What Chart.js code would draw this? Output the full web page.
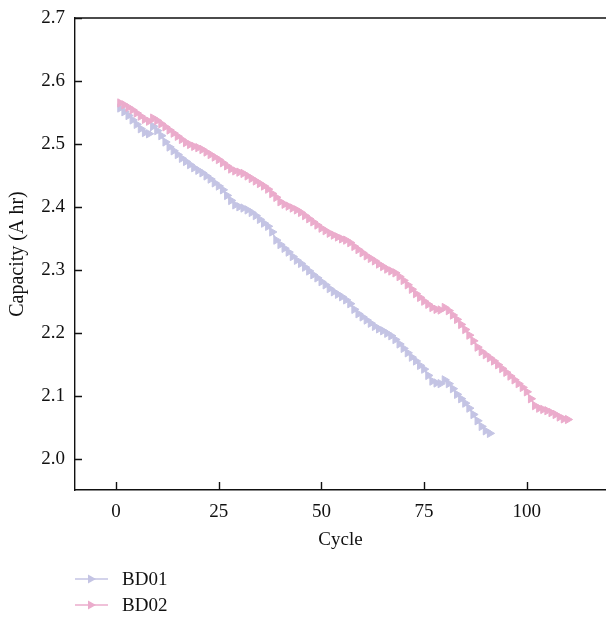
<!DOCTYPE html>
<html lang="en">
<head>
    <meta charset="UTF-8">
    <title>Capacity vs Cycle</title>
    <script src="https://cdn.jsdelivr.net/npm/chart.js"></script>
    <style>
        body { margin: 0; background: #fff; }
        canvas { display: block; }
    </style>
</head>
<body>
    <canvas id="capacity_chart" width="606" height="618"></canvas>
    <script>
        // capacity per cycle (cycle = index + 1)
        const bd01Capacity = [
            2.557, 2.551, 2.545, 2.538, 2.531, 2.524, 2.518, 2.516, 2.528, 2.521,
            2.513, 2.503, 2.495, 2.489, 2.483, 2.477, 2.472, 2.467, 2.462, 2.458,
            2.454, 2.449, 2.444, 2.438, 2.433, 2.427, 2.418, 2.410, 2.403, 2.400,
            2.398, 2.395, 2.391, 2.386, 2.380, 2.374, 2.369, 2.360, 2.347, 2.340,
            2.334, 2.328, 2.321, 2.315, 2.310, 2.304, 2.298, 2.292, 2.287, 2.281,
            2.276, 2.270, 2.265, 2.261, 2.257, 2.252, 2.246, 2.237, 2.230, 2.225,
            2.220, 2.215, 2.210, 2.206, 2.203, 2.199, 2.195, 2.189, 2.182, 2.175,
            2.168, 2.161, 2.155, 2.148, 2.142, 2.132, 2.123, 2.120, 2.119, 2.125,
            2.119, 2.111, 2.102, 2.095, 2.088, 2.080, 2.070, 2.060, 2.051, 2.044,
            2.040
        ];
        const bd02Capacity = [
            2.565, 2.562, 2.558, 2.554, 2.549, 2.544, 2.539, 2.536, 2.541, 2.537,
            2.532, 2.527, 2.522, 2.517, 2.512, 2.507, 2.502, 2.499, 2.496, 2.494,
            2.491, 2.487, 2.483, 2.479, 2.475, 2.470, 2.465, 2.460, 2.457, 2.455,
            2.453, 2.449, 2.445, 2.441, 2.437, 2.433, 2.428, 2.421, 2.415, 2.408,
            2.404, 2.401, 2.398, 2.395, 2.391, 2.386, 2.381, 2.376, 2.371, 2.366,
            2.362, 2.358, 2.355, 2.352, 2.349, 2.347, 2.343, 2.337, 2.332, 2.327,
            2.322, 2.318, 2.314, 2.309, 2.305, 2.301, 2.298, 2.295, 2.289, 2.283,
            2.276, 2.269, 2.262, 2.256, 2.250, 2.245, 2.240, 2.237, 2.236, 2.240,
            2.235, 2.228, 2.221, 2.213, 2.205, 2.196, 2.187, 2.177, 2.170, 2.165,
            2.160, 2.155, 2.149, 2.143, 2.137, 2.131, 2.125, 2.119, 2.113, 2.106,
            2.095, 2.084, 2.080, 2.078, 2.076, 2.073, 2.070, 2.066, 2.063, 2.062
        ];
        const seriesLabels = ['BD01', 'BD02'];
        const xTicks = [0, 25, 50, 75, 100];
        const yTicks = [2.0, 2.1, 2.2, 2.3, 2.4, 2.5, 2.6, 2.7];

        const lavender = 'rgb(196, 196, 228)';
        const pink = 'rgb(235, 172, 204)';
        const fontFamily = "'Liberation Serif', 'DejaVu Serif', serif";
        const toPoints = arr => arr.map((v, i) => ({ x: i + 1, y: v }));

        // box top edge, inward tick marks and the stacked legend
        const framePlugin = {
            id: 'frame',
            afterDraw(chart) {
                const { ctx, chartArea, scales } = chart;
                ctx.save();
                ctx.strokeStyle = '#111';
                ctx.lineWidth = 1.4;
                ctx.beginPath();
                ctx.moveTo(chartArea.left, chartArea.top);
                ctx.lineTo(chart.width, chartArea.top);
                xTicks.forEach(v => {
                    const px = Math.round(scales.x.getPixelForValue(v)) + 0.5;
                    ctx.moveTo(px, chartArea.bottom);
                    ctx.lineTo(px, chartArea.bottom - 8);
                });
                yTicks.forEach(v => {
                    const py = Math.round(scales.y.getPixelForValue(v)) + 0.5;
                    ctx.moveTo(chartArea.left, py);
                    ctx.lineTo(chartArea.left + 7, py);
                });
                ctx.stroke();

                // legend
                const rows = [579, 605];
                chart.data.datasets.forEach((ds, i) => {
                    const y = rows[i];
                    ctx.strokeStyle = ds.borderColor;
                    ctx.fillStyle = ds.borderColor;
                    ctx.lineWidth = 1.5;
                    ctx.beginPath();
                    ctx.moveTo(75, y);
                    ctx.lineTo(108, y);
                    ctx.stroke();
                    ctx.beginPath();
                    ctx.moveTo(96, y);
                    ctx.lineTo(88, y - 4.5);
                    ctx.lineTo(88, y + 4.5);
                    ctx.closePath();
                    ctx.fill();
                    ctx.fillStyle = '#111';
                    ctx.font = '19px ' + fontFamily;
                    ctx.textBaseline = 'middle';
                    ctx.textAlign = 'left';
                    ctx.fillText(ds.label, 122, y + 1);
                });
                ctx.restore();
            }
        };

        const ctx = document.getElementById('capacity_chart').getContext('2d');
        new Chart(ctx, {
            type: 'line',
            data: {
                datasets: [
                    {
                        label: seriesLabels[0],
                        data: toPoints(bd01Capacity),
                        borderColor: lavender,
                        backgroundColor: lavender,
                        borderWidth: 1.5,
                        pointStyle: 'triangle',
                        rotation: 90,
                        pointRadius: 4.8,
                        pointBorderWidth: 1,
                        tension: 0,
                        order: 1
                    },
                    {
                        label: seriesLabels[1],
                        data: toPoints(bd02Capacity),
                        borderColor: pink,
                        backgroundColor: pink,
                        borderWidth: 1.5,
                        pointStyle: 'triangle',
                        rotation: 90,
                        pointRadius: 4.8,
                        pointBorderWidth: 1,
                        tension: 0,
                        order: 0
                    }
                ]
            },
            options: {
                responsive: false,
                animation: false,
                layout: { autoPadding: false, padding: { top: 18, right: 0, bottom: 66, left: 0 } },
                scales: {
                    x: {
                        type: 'linear',
                        min: -10,
                        max: 119.3,
                        afterBuildTicks: s => { s.ticks = xTicks.map(v => ({ value: v })); },
                        afterFit: s => { s.height = 62; s.paddingLeft = 0; s.paddingRight = 0; },
                        grid: { display: false, drawTicks: false },
                        border: { display: true, color: '#111', width: 1.4 },
                        ticks: {
                            padding: 11,
                            color: '#111',
                            maxRotation: 0,
                            font: { family: fontFamily, size: 19 }
                        },
                        title: {
                            display: true,
                            text: 'Cycle',
                            color: '#111',
                            padding: { top: 0, bottom: 1 },
                            font: { family: fontFamily, size: 19 }
                        }
                    },
                    y: {
                        min: 1.95,
                        max: 2.7,
                        afterBuildTicks: s => { s.ticks = yTicks.map(v => ({ value: v })); },
                        afterFit: s => { s.width = 75; s.paddingTop = 0; s.paddingBottom = 0; },
                        grid: { display: false, drawTicks: false },
                        border: { display: true, color: '#111', width: 1.4 },
                        ticks: {
                            padding: 10,
                            color: '#111',
                            callback: v => v.toFixed(1),
                            font: { family: fontFamily, size: 19 }
                        },
                        title: {
                            display: true,
                            text: 'Capacity (A hr)',
                            color: '#111',
                            padding: { top: 6, bottom: 0 },
                            font: { family: fontFamily, size: 20 }
                        }
                    }
                },
                plugins: {
                    legend: { display: false },
                    tooltip: { enabled: false }
                }
            },
            plugins: [framePlugin]
        });
    </script>
</body>
</html>
